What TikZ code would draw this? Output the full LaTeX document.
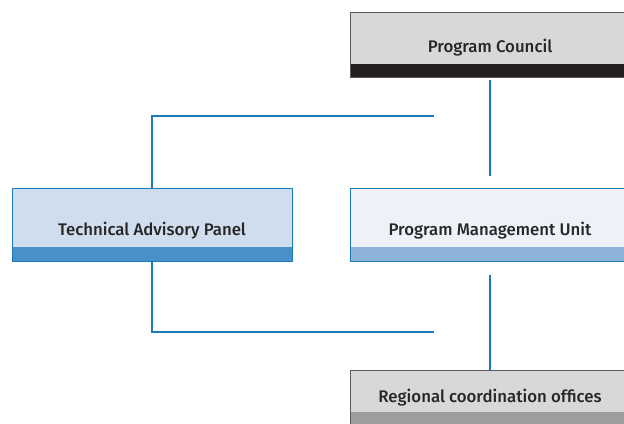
\documentclass[tikz,border=0pt]{standalone}
\usepackage{fontspec}
\setmainfont{Fira Sans}[BoldFont={Fira Sans Medium}]
\definecolor{linkblue}{HTML}{1B7BB9}
\definecolor{panelfill}{HTML}{D0DDEE}
\definecolor{panelband}{HTML}{4A90C8}
\definecolor{unitfill}{HTML}{EEF1F8}
\definecolor{unitband}{HTML}{8DB3D9}
\definecolor{greyfill}{HTML}{D8D8D8}
\definecolor{councilband}{HTML}{231F20}
\definecolor{officeband}{HTML}{9D9D9D}
\newcommand{\boxlabel}[2]{\raisebox{-#1}[0pt][0pt]{#2}}
\begin{document}
\begin{tikzpicture}[x=0.75pt, y=-0.75pt,
    orgbox/.style n args={3}{draw=#1, fill=#2, line width=0.75pt, minimum width=210pt,
        inner sep=0pt, font=\bfseries\fontsize{12.6}{15}\selectfont, text=black!85,
        path picture={\fill[#3] (path picture bounding box.south west) rectangle
            ([yshift=10.5pt]path picture bounding box.south east);}},
    link/.style={draw=linkblue, line width=1.5pt}]
    \useasboundingbox[fill=white] (0,0) rectangle (624,424);
    % boxes
    \node[orgbox={black!65}{greyfill}{councilband}, minimum height=48.75pt](PC) at (490,45.5) {\boxlabel{4.9pt}{Program Council}};
    \node[orgbox={linkblue}{panelfill}{panelband}, minimum height=54.75pt](TAP) at (152,224.5) {\boxlabel{8.6pt}{Technical Advisory Panel}};
    \node[orgbox={linkblue}{unitfill}{unitband}, minimum height=54.75pt](PMU) at (490,224.5) {\boxlabel{8.6pt}{Program Management Unit}};
    \node[orgbox={black!65}{greyfill}{officeband}, minimum height=42pt](RCO) at (490,398) {\boxlabel{3pt}{Regional coordination offices}};
    % free ends of the side links
    \coordinate (upper) at (434,116);
    \coordinate (lower) at (434,332);
    % links
    \draw[link, shorten <=1.5pt, shorten >=9pt] (PC.south) -- (PMU.north);
    \draw[link, shorten <=9.75pt] (PMU.south) -- (RCO.north);
    \draw[link] (upper) -| (TAP.north);
    \draw[link] (TAP.south) |- (lower);
\end{tikzpicture}
\end{document}
